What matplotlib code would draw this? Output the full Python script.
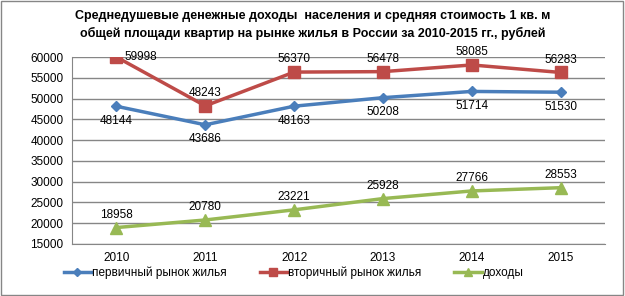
import matplotlib.pyplot as plt
from matplotlib.patches import Rectangle

plt.rcParams['font.family'] = ['Liberation Sans', 'DejaVu Sans']

years = ['2010', '2011', '2012', '2013', '2014', '2015']
primary = [48144, 43686, 48163, 50208, 51714, 51530]
secondary = [59998, 48243, 56370, 56478, 58085, 56283]
income = [18958, 20780, 23221, 25928, 27766, 28553]

fig = plt.figure(figsize=(6.25, 2.96), dpi=100)
ax = fig.add_axes([72 / 625, 1 - 244 / 296, 533 / 625, 187 / 296])

x = list(range(len(years)))
ax.plot(x, primary, color='#4A7EBB', lw=2.5, marker='D', ms=5, label='первичный рынок жилья')
ax.plot(x, secondary, color='#BE4B48', lw=2.5, marker='s', ms=8, label='вторичный рынок жилья')
ax.plot(x, income, color='#98B954', lw=2.5, marker='^', ms=8, label='доходы')

for i, v in enumerate(primary):
    ax.annotate(str(v), (i, v), xytext=(0, -6), textcoords='offset points',
                ha='center', va='top', fontsize=8.5)
for i, v in enumerate(secondary):
    if i == 0:
        ax.annotate(str(v), (i, v), xytext=(6, 0), textcoords='offset points',
                    ha='left', va='center', fontsize=8.5)
    else:
        ax.annotate(str(v), (i, v), xytext=(0, 5), textcoords='offset points',
                    ha='center', va='bottom', fontsize=8.5)
for i, v in enumerate(income):
    ax.annotate(str(v), (i, v), xytext=(0, 5), textcoords='offset points',
                ha='center', va='bottom', fontsize=8.5)

ax.set_xlim(-0.5, 5.5)
ax.set_ylim(15000, 60000)
ax.set_yticks(range(15000, 60001, 5000))
ax.set_xticks(x)
ax.set_xticklabels(years)
ax.tick_params(axis='both', length=0, labelsize=8.5, pad=6)
ax.grid(axis='y', color='#868686', lw=1)
ax.set_axisbelow(True)
for s in ['top', 'right']:
    ax.spines[s].set_visible(False)
ax.spines['left'].set_color('#868686')
ax.spines['bottom'].set_color('#868686')

fig.text(0.5, 0.965, 'Среднедушевые денежные доходы  населения и средняя стоимость 1 кв. м\n'
         'общей площади квартир на рынке жилья в России за 2010-2015 гг., рублей',
         ha='center', va='top', fontsize=9, fontweight='bold', linespacing=1.5)

leg = fig.legend(loc='lower center', bbox_to_anchor=(0.47, 0.02), ncol=3, frameon=False,
                 fontsize=8.5, handlelength=2.3, columnspacing=2.8, handletextpad=0.1,
                 markerscale=0.75)

fig.patches.append(Rectangle((0.002, 0.003), 0.995, 0.993, transform=fig.transFigure,
                             fill=False, edgecolor='#868686', lw=1))

fig.savefig('out.png', dpi=100)
